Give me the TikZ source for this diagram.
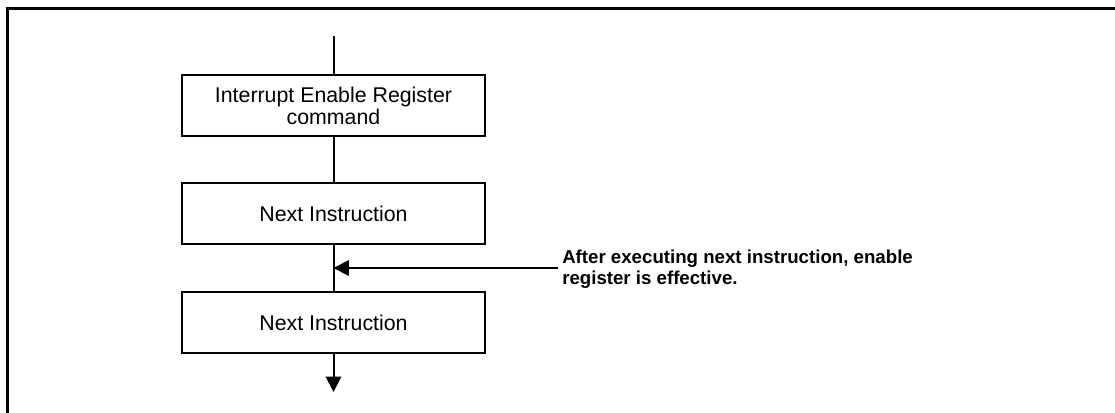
\documentclass[tikz,border=0pt]{standalone}
\usepackage{fontspec}
\setmainfont{Liberation Sans}
\usetikzlibrary{arrows.meta}
\begin{document}
\begin{tikzpicture}[x=0.75pt,y=-0.75pt,
  stepbox/.style={draw=black,line width=2pt,minimum width=227.25pt,minimum height=45.75pt,inner sep=0pt,align=center,font=\fontsize{16}{16.5}\selectfont},
  conn/.style={line width=1.5pt},
  arr/.style={conn,-{Triangle[length=11.5pt,width=11.5pt]}},
  note/.style={align=left,inner sep=0pt,font=\fontsize{14}{15.75}\selectfont\bfseries}]
\useasboundingbox (0,0) rectangle (1115,412);
\draw[line width=2.2pt] (1130,8.5) -- (7.5,8.5) -- (7.5,430);
\node[stepbox] (b1) at (333.5,105.5) {Interrupt Enable Register\\command};
\node[stepbox] (b2) at (333.5,213.5) {Next Instruction};
\node[stepbox] (b3) at (333.5,322.5) {Next Instruction};
\coordinate (top) at (333.5,36);
\coordinate (bot) at (333.5,392);
\coordinate (c) at (558,268);
\node[note,anchor=north west] (txt) at (562,249.5) {After executing next instruction, enable\\register is effective.};
\draw[conn] (top) -- (b1.north);
\draw[conn] (b1.south) -- (b2.north);
\draw[conn] (b2.south) -- (b3.north);
\draw[arr] (b3.south) -- (bot);
\draw[arr] (c) -- (c -| b2.south);
\end{tikzpicture}
\end{document}
